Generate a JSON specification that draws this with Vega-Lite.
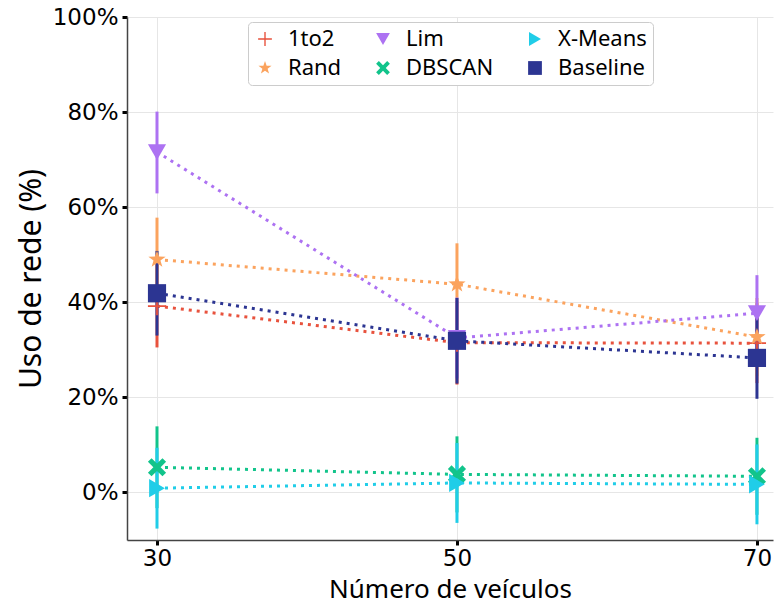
{
  "$schema": "https://vega.github.io/schema/vega-lite/v6.json",
  "width": 646,
  "height": 523,
  "autosize": {"type": "none"},
  "padding": {"left": 127, "top": 17, "right": 3, "bottom": 65},
  "background": "white",
  "config": {
    "view": {"stroke": null},
    "axis": {
      "labelFont": "DejaVu Sans",
      "labelFontSize": 23,
      "labelColor": "black",
      "labelFlush": false,
      "labelOverlap": false,
      "tickColor": "black",
      "tickSize": 5,
      "tickWidth": 3,
      "domainColor": "#444444",
      "domainWidth": 1.5,
      "grid": true,
      "gridColor": "#e6e6e6",
      "gridWidth": 1,
      "titleFont": "Noto Sans",
      "titleFontWeight": "normal",
      "titleColor": "black"
    },
    "legend": {
      "orient": "none",
      "legendX": 121,
      "legendY": 5,
      "columns": 3,
      "direction": "vertical",
      "labelFont": "Noto Sans",
      "labelFontSize": 22,
      "labelColor": "black",
      "symbolSize": 190,
      "symbolStrokeWidth": 0,
      "padding": 6,
      "strokeColor": "#cccccc",
      "fillColor": "white",
      "cornerRadius": 4,
      "columnPadding": 30,
      "rowPadding": 7,
      "labelOffset": 12
    }
  },
  "data": {
    "values": [
      {"alg": "1to2", "n": 30, "y": 39.2, "lo": 30.5, "hi": 47.9},
      {"alg": "1to2", "n": 50, "y": 31.5, "lo": 22.7, "hi": 40.3},
      {"alg": "1to2", "n": 70, "y": 31.4, "lo": 23.0, "hi": 39.8},
      {"alg": "Rand", "n": 30, "y": 49.0, "lo": 40.2, "hi": 57.8},
      {"alg": "Rand", "n": 50, "y": 43.8, "lo": 35.2, "hi": 52.4},
      {"alg": "Rand", "n": 70, "y": 32.7, "lo": 24.5, "hi": 40.9},
      {"alg": "Lim", "n": 30, "y": 71.6, "lo": 62.9, "hi": 80.1},
      {"alg": "Lim", "n": 50, "y": 32.5, "lo": 24.0, "hi": 41.0},
      {"alg": "Lim", "n": 70, "y": 37.7, "lo": 29.7, "hi": 45.7},
      {"alg": "DBSCAN", "n": 30, "y": 5.3, "lo": -3.3, "hi": 13.9},
      {"alg": "DBSCAN", "n": 50, "y": 3.8, "lo": -4.2, "hi": 11.8},
      {"alg": "DBSCAN", "n": 70, "y": 3.4, "lo": -4.7, "hi": 11.5},
      {"alg": "X-Means", "n": 30, "y": 0.9, "lo": -7.6, "hi": 9.4},
      {"alg": "X-Means", "n": 50, "y": 2.0, "lo": -6.4, "hi": 10.4},
      {"alg": "X-Means", "n": 70, "y": 1.7, "lo": -6.7, "hi": 10.1},
      {"alg": "Baseline", "n": 30, "y": 41.9, "lo": 33.0, "hi": 50.8},
      {"alg": "Baseline", "n": 50, "y": 31.9, "lo": 22.9, "hi": 40.9},
      {"alg": "Baseline", "n": 70, "y": 28.3, "lo": 19.7, "hi": 36.9}
    ]
  },
  "encoding": {
    "x": {
      "field": "n",
      "type": "quantitative",
      "scale": {"domain": [28, 71.07], "nice": false, "zero": false},
      "axis": {
        "values": [30, 50, 70],
        "format": "d",
        "title": "Número de veículos",
        "titleFontSize": 26,
        "titlePadding": 6,
        "labelPadding": 2
      }
    },
    "y": {
      "field": "y",
      "type": "quantitative",
      "scale": {"domain": [-10, 100], "nice": false, "zero": false},
      "axis": {
        "values": [0, 20, 40, 60, 80, 100],
        "labelExpr": "datum.value + '%'",
        "title": "Uso de rede (%)",
        "titleFontSize": 30,
        "titlePadding": 6,
        "labelPadding": 4
      }
    },
    "color": {
      "field": "alg",
      "type": "nominal",
      "title": null,
      "scale": {
        "domain": ["1to2", "Rand", "Lim", "DBSCAN", "X-Means", "Baseline"],
        "range": ["#e8523d", "#fba35e", "#ad72f2", "#12c48b", "#20cde8", "#2c3592"]
      }
    }
  },
  "layer": [
    {
      "mark": {"type": "line", "strokeDash": [3, 5], "strokeWidth": 3}
    },
    {
      "mark": {"type": "rule", "strokeWidth": 3},
      "encoding": {
        "y": {"field": "lo", "type": "quantitative"},
        "y2": {"field": "hi"}
      }
    },
    {
      "mark": {"type": "point", "filled": true, "opacity": 1, "size": 330},
      "encoding": {
        "shape": {
          "field": "alg",
          "type": "nominal",
          "title": null,
          "scale": {
            "domain": ["1to2", "Rand", "Lim", "DBSCAN", "X-Means", "Baseline"],
            "range": [
              "M-1,-0.1H-0.1V-1H0.1V-0.1H1V0.1H0.1V1H-0.1V0.1H-1Z",
              "M0,-1L0.235,-0.324L0.951,-0.309L0.38,0.124L0.588,0.809L0,0.4L-0.588,0.809L-0.38,0.124L-0.951,-0.309L-0.235,-0.324Z",
              "triangle-down",
              "M-1,-0.6L-0.6,-1L0,-0.4L0.6,-1L1,-0.6L0.4,0L1,0.6L0.6,1L0,0.4L-0.6,1L-1,0.6L-0.4,0Z",
              "triangle-right",
              "square"
            ]
          }
        }
      }
    }
  ]
}
